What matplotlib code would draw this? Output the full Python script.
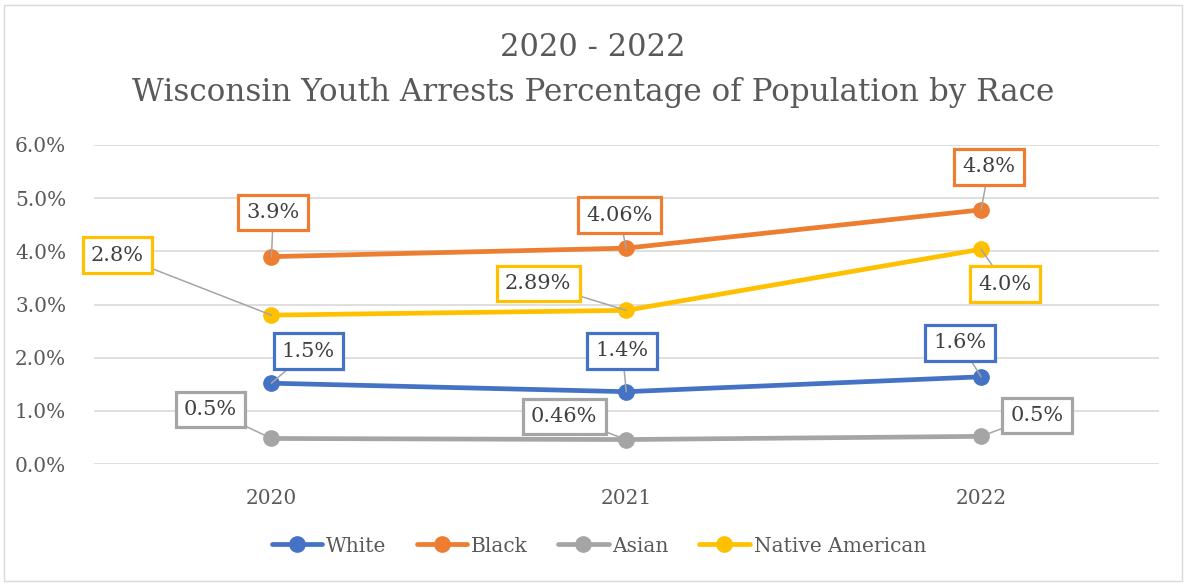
import matplotlib.pyplot as plt
from matplotlib.patches import Rectangle
from matplotlib.ticker import FuncFormatter

years = ["2020", "2021", "2022"]
white = [1.52, 1.36, 1.64]
black = [3.90, 4.06, 4.78]
asian = [0.48, 0.46, 0.52]
native = [2.80, 2.89, 4.04]

# decimals shown in each data label
white_dec = [1, 1, 1]
black_dec = [1, 2, 1]
asian_dec = [1, 2, 1]
native_dec = [1, 2, 1]

series = [
    ("White", white, white_dec, "#4472C4", [(37, 32), (-4, 41), (-21, 34)]),
    ("Black", black, black_dec, "#ED7D31", [(2, 44), (-7, 33), (8, 43)]),
    ("Asian", asian, asian_dec, "#A5A5A5", [(-61, 29), (-62, 23), (56, 21)]),
    ("Native American", native, native_dec, "#FFC000", [(-154, 60), (-88, 27), (24, -35)]),
]

TXT = "#595959"
FONT = "DejaVu Serif"
plt.rcParams["font.family"] = FONT

fig = plt.figure(figsize=(11.86, 5.86), dpi=100)
ax = fig.add_axes([94 / 1186, 122 / 586, (1158.5 - 94) / 1186, (464 - 145) / 586])

# light frame round the whole chart area
fig.patches.append(Rectangle((4 / 1186, 5 / 586), 1178 / 1186, 576 / 586,
                             transform=fig.transFigure, fill=False,
                             edgecolor="#d9d9d9", linewidth=1))

x = range(len(years))
for name, vals, dec, color, offs in series:
    ax.plot(x, vals, color=color, linewidth=3.4, marker="o", markersize=11,
            label=name, solid_capstyle="round", zorder=3)

for name, vals, dec, color, offs in series:
    for i, (v, d, off) in enumerate(zip(vals, dec, offs)):
        ax.annotate(f"{v:.{d}f}%", xy=(i, v), xytext=off, textcoords="offset pixels",
                    ha="center", va="center", fontsize=15, color="#404040",
                    bbox=dict(boxstyle="square,pad=0.4", fc="white", ec=color, lw=2.3),
                    arrowprops=dict(arrowstyle="-", color="#A5A5A5", lw=1.1,
                                    shrinkA=0, shrinkB=0),
                    zorder=5)

ax.set_xlim(-0.5, 2.5)
ax.set_ylim(0, 6)
ax.set_xticks(list(x))
ax.set_xticklabels(years)
ax.set_yticks([0, 1, 2, 3, 4, 5, 6])
ax.yaxis.set_major_formatter(FuncFormatter(lambda v, p: f"{v:.1f}%"))
ax.tick_params(length=0, labelsize=14.5, colors=TXT)
ax.tick_params(axis="y", pad=20)
ax.tick_params(axis="x", pad=18)
ax.grid(axis="y", color="#d9d9d9", linewidth=1.2)
ax.set_axisbelow(True)
for s in ax.spines.values():
    s.set_visible(False)

fig.text(0.5, 1 - 47 / 586, "2020 - 2022", ha="center", va="center",
         fontsize=22, color=TXT)
fig.text(0.5, 1 - 93 / 586, "Wisconsin Youth Arrests Percentage of Population by Race",
         ha="center", va="center", fontsize=22.3, color=TXT)

leg = fig.legend(loc="center", bbox_to_anchor=(0.505, 1 - 546 / 586), ncol=4,
                 frameon=False, fontsize=14.5, handlelength=2.5, handletextpad=0.2,
                 columnspacing=1.5)
for t in leg.get_texts():
    t.set_color(TXT)

plt.savefig("out.png", dpi=100)
